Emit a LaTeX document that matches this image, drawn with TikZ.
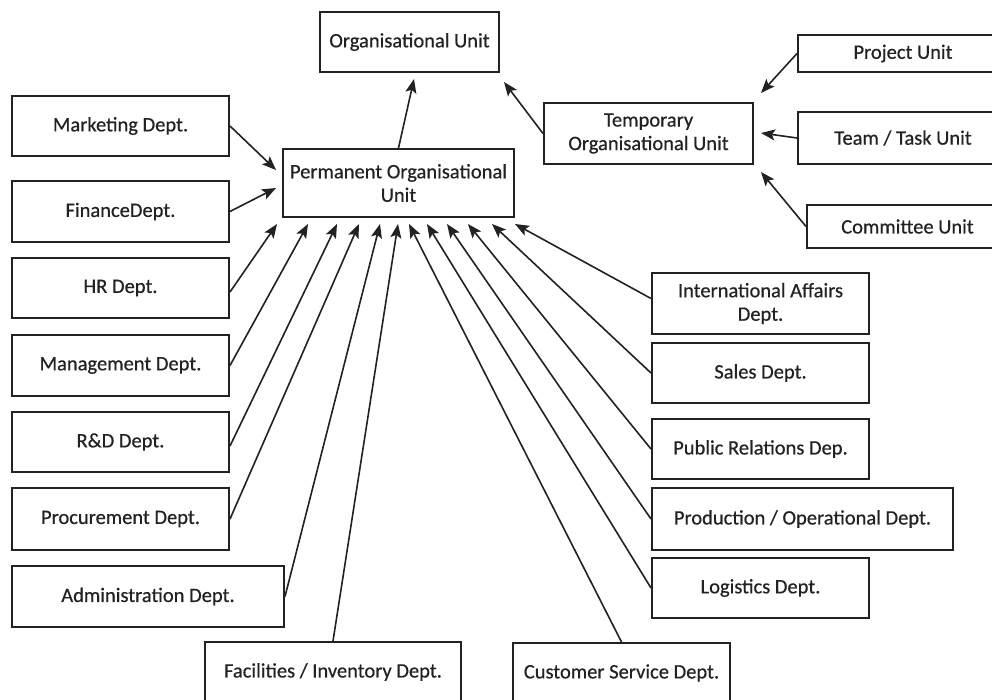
\documentclass[tikz,border=0pt]{standalone}
\usepackage{fontspec}
\setmainfont{Carlito}[FakeBold=0.5]
\usetikzlibrary{arrows.meta}
\definecolor{ink}{HTML}{222222}
\begin{document}
\begin{tikzpicture}[x=1pt,y=-1pt,
  box/.style={draw=ink,line width=2pt,fill=white,inner sep=2pt,align=center,
    text=ink,font=\fontsize{20.5}{23.5}\selectfont},
  conn/.style={draw=ink,line width=1.6pt,-{Stealth[length=14pt,width=11pt,inset=3pt]}}]
\useasboundingbox[fill=white] (0,0) rectangle (992,700);
% top
\node[box,minimum width=179pt,minimum height=60pt] (org) at (409.5,42) {Organisational Unit};
\node[box,minimum width=231pt,minimum height=68pt] (perm) at (398.5,183) {Permanent Organisational\\Unit};
\node[box,minimum width=209pt,minimum height=61pt] (temp) at (648.5,133.5) {Temporary\\Organisational Unit};
\node[box,minimum width=210pt,minimum height=37pt] (proj) at (903,53.5) {Project Unit};
\node[box,minimum width=210pt,minimum height=52pt] (team) at (903,138) {Team / Task Unit};
\node[box,minimum width=201pt,minimum height=43pt] (comm) at (907.5,226.5) {Committee Unit};
% left
\node[box,minimum width=217pt,minimum height=60pt] (mkt) at (120.5,126) {Marketing Dept.};
\node[box,minimum width=217pt,minimum height=61pt] (fin) at (120.5,211.5) {FinanceDept.};
\node[box,minimum width=217pt,minimum height=60pt] (hr) at (120.5,288) {HR Dept.};
\node[box,minimum width=217pt,minimum height=61pt] (mgmt) at (120.5,365.5) {Management Dept.};
\node[box,minimum width=217pt,minimum height=60pt] (rnd) at (120.5,442) {R\&D Dept.};
\node[box,minimum width=217pt,minimum height=62pt] (proc) at (120.5,519) {Procurement Dept.};
\node[box,minimum width=272pt,minimum height=61pt] (admin) at (148,596.5) {Administration Dept.};
\node[box,minimum width=256pt,minimum height=60pt] (fac) at (333,672) {Facilities / Inventory Dept.};
% right
\node[box,minimum width=217pt,minimum height=61pt] (intl) at (760.5,303.5) {International Affairs\\Dept.};
\node[box,minimum width=217pt,minimum height=60pt] (sales) at (760.5,373) {Sales Dept.};
\node[box,minimum width=217pt,minimum height=60pt] (pr) at (760.5,449) {Public Relations Dep.};
\node[box,minimum width=301pt,minimum height=62pt] (prod) at (802.5,519) {Production / Operational Dept.};
\node[box,minimum width=217pt,minimum height=60pt] (log) at (760.5,588) {Logistics Dept.};
\node[box,minimum width=217pt,minimum height=60pt] (cs) at (621.5,673) {Customer Service Dept.};
% tip coordinates
\coordinate (tOrgA) at (414,79);
\coordinate (tOrgB) at (504,82);
\coordinate (tTmpA) at (761,93);
\coordinate (tTmpB) at (761,133);
\coordinate (tTmpC) at (761,172);
\coordinate (tMkt) at (276,170);
\coordinate (tFin) at (276,188);
\coordinate (tHr) at (277,224);
\coordinate (tMgmt) at (308,224);
\coordinate (tRnd) at (337,224);
\coordinate (tProc) at (359,224);
\coordinate (tAdmin) at (380,224);
\coordinate (tFac) at (398,224);
\coordinate (tCs) at (409,224);
\coordinate (tLog) at (427,224);
\coordinate (tProd) at (447,224);
\coordinate (tPr) at (468,224);
\coordinate (tSales) at (492,224);
\coordinate (tIntl) at (515,224);
% connectors
\draw[conn] (perm.north) -- (tOrgA);
\draw[conn] (temp.west) -- (tOrgB);
\draw[conn] (proj.west) -- (tTmpA);
\draw[conn] (team.west) -- (tTmpB);
\draw[conn] (comm.west) -- (tTmpC);
\draw[conn] (mkt.east) -- (tMkt);
\draw[conn] (fin.east) -- (tFin);
\draw[conn] ([yshift=-4pt]hr.east) -- (tHr);
\draw[conn] (mgmt.east) -- (tMgmt);
\draw[conn] ([yshift=-4pt]rnd.east) -- (tRnd);
\draw[conn] (proc.east) -- (tProc);
\draw[conn] (admin.east) -- (tAdmin);
\draw[conn] (fac.north) -- (tFac);
\draw[conn] (cs.north) -- (tCs);
\draw[conn] (log.west) -- (tLog);
\draw[conn] (prod.west) -- (tProd);
\draw[conn] (pr.west) -- (tPr);
\draw[conn] (sales.west) -- (tSales);
\draw[conn] ([yshift=5pt]intl.west) -- (tIntl);
\end{tikzpicture}
\end{document}
